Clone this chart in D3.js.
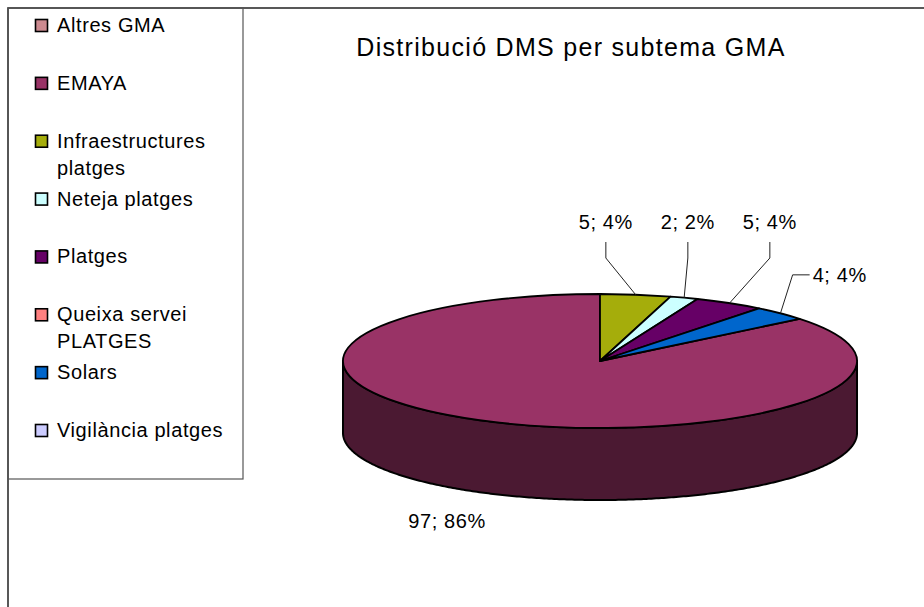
<!DOCTYPE html>
<html>
<head>
<meta charset="utf-8">
<script src="https://cdn.jsdelivr.net/npm/d3@7"></script>
<style>
  body { margin: 0; background: #fff; }
  text { font-family: "Liberation Sans", Arial, sans-serif; fill: #000; }
</style>
</head>
<body>
<div id="chart"></div>
<script>
// dades del gràfic
const categories = ["Altres GMA", "EMAYA", "Infraestructures platges", "Neteja platges", "Platges", "Queixa servei PLATGES", "Solars", "Vigilància platges"];
const values = [0, 97, 5, 2, 5, 0, 4, 0];
const colors = ["#cc8a90", "#993366", "#a5ad0b", "#ccffff", "#660066", "#ff8080", "#0066cc", "#ccccff"];
const title = "Distribució DMS per subtema GMA";

const width = 924, height = 607;
const svg = d3.select("#chart").append("svg").attr("width", width).attr("height", height);

// marc exterior (només dalt i esquerra visibles)
svg.append("path")
  .attr("d", `M8,${height} L8,8 L${width},8`)
  .attr("fill", "none").attr("stroke", "#222").attr("stroke-width", 1.5);

// llegenda
svg.append("rect")
  .attr("x", 8).attr("y", 8).attr("width", 235).attr("height", 471)
  .attr("fill", "none").attr("stroke", "#555").attr("stroke-width", 1.2);

const ly = d3.scalePoint().domain(categories).range([25, 430]);
const legend = svg.append("g").selectAll("g").data(categories).enter().append("g")
  .attr("transform", d => `translate(0,${ly(d)})`);
legend.append("rect")
  .attr("x", 35.5).attr("y", -5.5).attr("width", 12).attr("height", 12)
  .attr("fill", (d, i) => colors[i]).attr("stroke", "#000").attr("stroke-width", 1.6);
legend.each(function (d) {
  const g = d3.select(this);
  const t = g.append("text").attr("x", 57).attr("y", 7)
    .style("font-size", "20px").style("letter-spacing", "0.6px");
  const words = d.split(" ");
  let line = [];
  let tspan = t.append("tspan").attr("x", 57).attr("dy", 0);
  words.forEach(w => {
    line.push(w);
    tspan.text(line.join(" "));
    if (tspan.node().getComputedTextLength() > 182 && line.length > 1) {
      line.pop();
      tspan.text(line.join(" "));
      line = [w];
      tspan = t.append("tspan").attr("x", 57).attr("dy", 27).text(w);
    }
  });
});

// títol
svg.append("text")
  .attr("x", 571).attr("y", 56).attr("text-anchor", "middle")
  .style("font-size", "25px").style("letter-spacing", "1.3px")
  .text(title);

// pastís 3D
const cx = 600, cy = 361, rx = 257, ry = 67, depth = 72;
const total = d3.sum(values);
const a0 = 2 * Math.PI - 2 * Math.PI * (values[0] + values[1]) / total;
const pie = d3.pie().sort(null).value(d => d).startAngle(a0).endAngle(a0 + 2 * Math.PI);
const arcsData = pie(values).map((d, i) => ({ ...d, i })).filter(d => d.value > 0);

const ex = a => cx + rx * Math.sin(a);
const ey = a => cy - ry * Math.cos(a);

// parets laterals (meitat frontal)
const sideG = svg.append("g");
arcsData.forEach(d => {
  for (let k = -1; k <= 1; k++) {
    const s = Math.max(d.startAngle + k * 2 * Math.PI, Math.PI / 2);
    const e = Math.min(d.endAngle + k * 2 * Math.PI, 3 * Math.PI / 2);
    if (e <= s) continue;
    const angs = d3.range(s, e, 0.01).concat([e]);
    const top = angs.map(a => [ex(a), ey(a)]);
    const bottom = angs.slice().reverse().map(a => [ex(a), ey(a) + depth]);
    sideG.append("path")
      .attr("d", d3.line()(top.concat(bottom)) + "Z")
      .attr("fill", d3.color(colors[d.i]).darker(2))
      .attr("stroke", "#000").attr("stroke-width", 2).attr("stroke-linejoin", "round");
  }
});

// cara superior
const arc = d3.arc().innerRadius(0).outerRadius(rx);
svg.append("g")
  .attr("transform", `translate(${cx},${cy}) scale(1,${ry / rx})`)
  .selectAll("path").data(arcsData).enter().append("path")
  .attr("d", arc)
  .attr("fill", d => colors[d.i])
  .attr("stroke", "#000").attr("stroke-width", 1.8)
  .attr("vector-effect", "non-scaling-stroke")
  .attr("stroke-linejoin", "round");

// etiquetes
const rxL = rx + 80, ryL = ry + 54;
const fmt = d => `${d.value}; ${Math.round(d.value / total * 100)}%`;
const labels = arcsData.map(d => {
  const mid = ((d.startAngle + d.endAngle) / 2) % (2 * Math.PI);
  return { d, mid, x: cx + rxL * Math.sin(mid), y: cy - ryL * Math.cos(mid) };
});
const topLabels = labels.filter(l => Math.cos(l.mid) >= 0 && Math.sin(l.mid) <= 0.65).sort((a, b) => a.mid - b.mid);
for (let i = topLabels.length - 2; i >= 0; i--) {
  topLabels[i].x = Math.min(topLabels[i].x, topLabels[i + 1].x - 82);
}
const elbowY = cy - ry - 36;
const labG = svg.append("g").style("font-size", "20px").style("letter-spacing", "0.6px");
labels.forEach(l => {
  const px = ex(l.mid), py = ey(l.mid);
  if (Math.cos(l.mid) < 0) {
    labG.append("text").attr("x", l.x - 8).attr("y", l.y + depth - 14)
      .attr("text-anchor", "middle").text(fmt(l.d));
  } else if (Math.sin(l.mid) > 0.65) {
    labG.append("path")
      .attr("d", d3.line()([[px, py], [l.x - 44, l.y], [l.x - 27, l.y]]))
      .attr("fill", "none").attr("stroke", "#222").attr("stroke-width", 1);
    labG.append("text").attr("x", l.x - 24).attr("y", l.y + 7).text(fmt(l.d));
  } else {
    labG.append("path")
      .attr("d", d3.line()([[px, py], [l.x, elbowY], [l.x, elbowY - 16]]))
      .attr("fill", "none").attr("stroke", "#222").attr("stroke-width", 1);
    labG.append("text").attr("x", l.x).attr("y", elbowY - 29)
      .attr("text-anchor", "middle").text(fmt(l.d));
  }
});
</script>
</body>
</html>
